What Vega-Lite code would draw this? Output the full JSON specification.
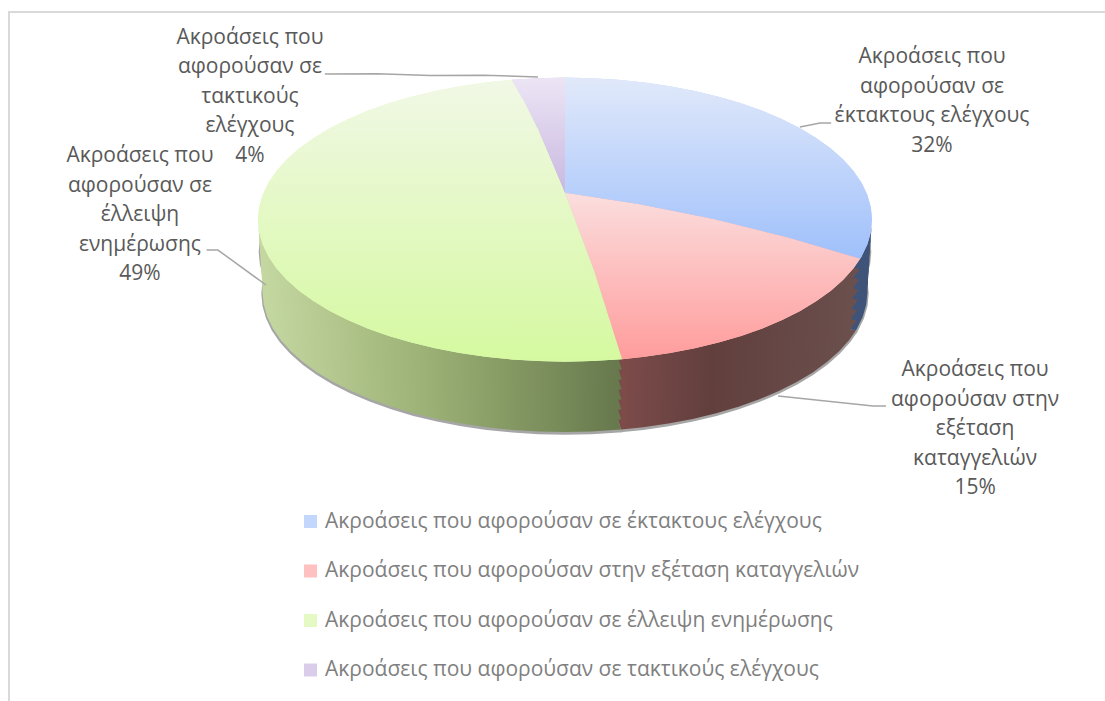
{"$schema":"https://vega.github.io/schema/vega-lite/v6.json","width":1110,"height":700,"autosize":{"type":"none"},"padding":{"left":9,"top":12,"right":0,"bottom":0},"background":"white","view":{"stroke":"#d9d9d9","strokeWidth":2},"config":{"font":"Open Sans"},
"datasets":{"sectors":[
{"type":"Feature","properties":{"name":"Ακροάσεις που αφορούσαν σε έκτακτους ελέγχους","share":32},"geometry":{"type":"Polygon","coordinates":[[[0,90],[180,78.7],[175,78.7],[170,78.7],[165,78.7],[160,78.7],[155,78.7],[150,78.7],[145,78.7],[140,78.7],[135,78.7],[130,78.7],[125,78.7],[120,78.7],[115,78.7],[110,78.7],[105,78.7],[100,78.7],[95,78.7],[90,78.7],[85,78.7],[80,78.7],[75,78.7],[74,78.7],[0,90]]]}},
{"type":"Feature","properties":{"name":"Ακροάσεις που αφορούσαν στην εξέταση καταγγελιών","share":15},"geometry":{"type":"Polygon","coordinates":[[[0,90],[74,78.7],[70,78.7],[65,78.7],[60,78.7],[55,78.7],[50,78.7],[45,78.7],[40,78.7],[35,78.7],[30,78.7],[25,78.7],[20,78.7],[15,78.7],[10.7,78.7],[0,90]]]}},
{"type":"Feature","properties":{"name":"Ακροάσεις που αφορούσαν σε έλλειψη ενημέρωσης","share":49},"geometry":{"type":"Polygon","coordinates":[[[0,90],[10.7,78.7],[5,78.7],[0,78.7],[-5,78.7],[-10,78.7],[-15,78.7],[-20,78.7],[-25,78.7],[-30,78.7],[-35,78.7],[-40,78.7],[-45,78.7],[-50,78.7],[-55,78.7],[-60,78.7],[-65,78.7],[-70,78.7],[-75,78.7],[-80,78.7],[-85,78.7],[-90,78.7],[-95,78.7],[-100,78.7],[-105,78.7],[-110,78.7],[-115,78.7],[-120,78.7],[-125,78.7],[-130,78.7],[-135,78.7],[-140,78.7],[-145,78.7],[-150,78.7],[-155,78.7],[-160,78.7],[-165,78.7],[-170,78.7],[0,90]]]}},
{"type":"Feature","properties":{"name":"Ακροάσεις που αφορούσαν σε τακτικούς ελέγχους","share":4},"geometry":{"type":"Polygon","coordinates":[[[0,90],[-170,78.7],[-175,78.7],[-180,78.7],[0,90]]]}}],
"leaders":[
{"type":"Feature","properties":{"share":32},"geometry":{"type":"LineString","coordinates":[[130.55,78.62],[130.94,77.56],[130.37,77.12]]}},
{"type":"Feature","properties":{"share":15},"geometry":{"type":"LineString","coordinates":[[32.10,75.17],[42.79,73.18],[44.29,72.94]]}},
{"type":"Feature","properties":{"share":49},"geometry":{"type":"LineString","coordinates":[[-83.10,76.68],[-82.14,77.08],[-65.97,77.94]]}},
{"type":"Feature","properties":{"share":4},"geometry":{"type":"LineString","coordinates":[[-148.09,73.15],[-157.97,76.72],[-175.02,78.55]]}}],
"labels":[
{"share":32,"label":"Ακροάσεις που\nαφορούσαν σε\nέκτακτους ελέγχους\n32%","lon":134.94,"lat":70.676},
{"share":15,"label":"Ακροάσεις που\nαφορούσαν στην\nεξέταση\nκαταγγελιών\n15%","lon":50.79,"lat":70.26},
{"share":49,"label":"Ακροάσεις που\nαφορούσαν σε\nέλλειψη\nενημέρωσης\n49%","lon":-98.98,"lat":74.06},
{"share":4,"label":"Ακροάσεις που\nαφορούσαν σε\nτακτικούς\nελέγχους\n4%","lon":-137.38,"lat":72.727}]},
"layer":[
{"data":{"name":"sectors"},"mark":{"type":"geoshape","fill":"#a6a6a6","stroke":"#a6a6a6","strokeWidth":2.5},"projection":{"type":"orthographic","precision":0.75,"rotate":[0,-27.55],"scale":1543.5,"translate":[556,1623.5]}},
{"data":{"name":"sectors"},"mark":{"type":"geoshape","fill":"#a6a6a6","stroke":"#a6a6a6","strokeWidth":2.5},"projection":{"type":"orthographic","rotate":[0,-27.55],"scale":1556.9,"translate":[556,1593.5]}},
{"data":{"name":"sectors"},"transform":[{"filter":"datum.properties.share===32"}],"mark":{"type":"geoshape","fill":"#3f5478"},"projection":{"type":"orthographic","rotate":[0,-27.55],"scale":1543.5,"translate":[556,1622.1]}},
{"data":{"name":"sectors"},"transform":[{"filter":"datum.properties.share===32"}],"mark":{"type":"geoshape","fill":"#3f5478"},"projection":{"type":"orthographic","rotate":[0,-27.55],"scale":1546.9,"translate":[556,1614.7]}},
{"data":{"name":"sectors"},"transform":[{"filter":"datum.properties.share===32"}],"mark":{"type":"geoshape","fill":"#3f5478"},"projection":{"type":"orthographic","rotate":[0,-27.55],"scale":1550.2,"translate":[556,1607.3]}},
{"data":{"name":"sectors"},"transform":[{"filter":"datum.properties.share===32"}],"mark":{"type":"geoshape","fill":"#3f5478"},"projection":{"type":"orthographic","rotate":[0,-27.55],"scale":1553.6,"translate":[556,1599.9]}},
{"data":{"name":"sectors"},"transform":[{"filter":"datum.properties.share===32"}],"mark":{"type":"geoshape","fill":"#3f5478"},"projection":{"type":"orthographic","rotate":[0,-27.55],"scale":1556.9,"translate":[556,1592.5]}},
{"data":{"name":"sectors"},"transform":[{"filter":"datum.properties.share===32"}],"mark":{"type":"geoshape","fill":"#3f5478"},"projection":{"type":"orthographic","rotate":[0,-27.55],"scale":1560.3,"translate":[556,1585.2]}},
{"data":{"name":"sectors"},"transform":[{"filter":"datum.properties.share===32"}],"mark":{"type":"geoshape","fill":"#3f5478"},"projection":{"type":"orthographic","rotate":[0,-27.55],"scale":1563.6,"translate":[556,1577.7]}},
{"data":{"name":"sectors"},"transform":[{"filter":"datum.properties.share===15"}],"mark":{"type":"geoshape","fill":{"gradient":"linear","x1":0,"y1":0,"x2":1,"y2":0,"stops":[{"offset":0,"color":"#60403f"},{"offset":0.2,"color":"#7c4b4a"},{"offset":0.5,"color":"#613f3d"},{"offset":1,"color":"#6b504e"}]}},"projection":{"type":"orthographic","rotate":[0,-27.55],"scale":1543.5,"translate":[556,1622.1]}},
{"data":{"name":"sectors"},"transform":[{"filter":"datum.properties.share===15"}],"mark":{"type":"geoshape","fill":{"gradient":"linear","x1":0,"y1":0,"x2":1,"y2":0,"stops":[{"offset":0,"color":"#60403f"},{"offset":0.2,"color":"#7c4b4a"},{"offset":0.5,"color":"#613f3d"},{"offset":1,"color":"#6b504e"}]}},"projection":{"type":"orthographic","rotate":[0,-27.55],"scale":1546.9,"translate":[556,1614.7]}},
{"data":{"name":"sectors"},"transform":[{"filter":"datum.properties.share===15"}],"mark":{"type":"geoshape","fill":{"gradient":"linear","x1":0,"y1":0,"x2":1,"y2":0,"stops":[{"offset":0,"color":"#60403f"},{"offset":0.2,"color":"#7c4b4a"},{"offset":0.5,"color":"#613f3d"},{"offset":1,"color":"#6b504e"}]}},"projection":{"type":"orthographic","rotate":[0,-27.55],"scale":1550.2,"translate":[556,1607.3]}},
{"data":{"name":"sectors"},"transform":[{"filter":"datum.properties.share===15"}],"mark":{"type":"geoshape","fill":{"gradient":"linear","x1":0,"y1":0,"x2":1,"y2":0,"stops":[{"offset":0,"color":"#60403f"},{"offset":0.2,"color":"#7c4b4a"},{"offset":0.5,"color":"#613f3d"},{"offset":1,"color":"#6b504e"}]}},"projection":{"type":"orthographic","rotate":[0,-27.55],"scale":1553.6,"translate":[556,1599.9]}},
{"data":{"name":"sectors"},"transform":[{"filter":"datum.properties.share===15"}],"mark":{"type":"geoshape","fill":{"gradient":"linear","x1":0,"y1":0,"x2":1,"y2":0,"stops":[{"offset":0,"color":"#60403f"},{"offset":0.2,"color":"#7c4b4a"},{"offset":0.5,"color":"#613f3d"},{"offset":1,"color":"#6b504e"}]}},"projection":{"type":"orthographic","rotate":[0,-27.55],"scale":1556.9,"translate":[556,1592.5]}},
{"data":{"name":"sectors"},"transform":[{"filter":"datum.properties.share===15"}],"mark":{"type":"geoshape","fill":{"gradient":"linear","x1":0,"y1":0,"x2":1,"y2":0,"stops":[{"offset":0,"color":"#60403f"},{"offset":0.2,"color":"#7c4b4a"},{"offset":0.5,"color":"#613f3d"},{"offset":1,"color":"#6b504e"}]}},"projection":{"type":"orthographic","rotate":[0,-27.55],"scale":1560.3,"translate":[556,1585.2]}},
{"data":{"name":"sectors"},"transform":[{"filter":"datum.properties.share===15"}],"mark":{"type":"geoshape","fill":{"gradient":"linear","x1":0,"y1":0,"x2":1,"y2":0,"stops":[{"offset":0,"color":"#60403f"},{"offset":0.2,"color":"#7c4b4a"},{"offset":0.5,"color":"#613f3d"},{"offset":1,"color":"#6b504e"}]}},"projection":{"type":"orthographic","rotate":[0,-27.55],"scale":1563.6,"translate":[556,1577.7]}},
{"data":{"name":"sectors"},"transform":[{"filter":"datum.properties.share===49"}],"mark":{"type":"geoshape","fill":{"gradient":"linear","x1":0,"y1":0,"x2":1,"y2":0,"stops":[{"offset":0,"color":"#c5d8a2"},{"offset":0.45,"color":"#9db276"},{"offset":1,"color":"#66784c"}]}},"projection":{"type":"orthographic","rotate":[0,-27.55],"scale":1543.5,"translate":[556,1622.1]}},
{"data":{"name":"sectors"},"transform":[{"filter":"datum.properties.share===49"}],"mark":{"type":"geoshape","fill":{"gradient":"linear","x1":0,"y1":0,"x2":1,"y2":0,"stops":[{"offset":0,"color":"#c5d8a2"},{"offset":0.45,"color":"#9db276"},{"offset":1,"color":"#66784c"}]}},"projection":{"type":"orthographic","rotate":[0,-27.55],"scale":1546.9,"translate":[556,1614.7]}},
{"data":{"name":"sectors"},"transform":[{"filter":"datum.properties.share===49"}],"mark":{"type":"geoshape","fill":{"gradient":"linear","x1":0,"y1":0,"x2":1,"y2":0,"stops":[{"offset":0,"color":"#c5d8a2"},{"offset":0.45,"color":"#9db276"},{"offset":1,"color":"#66784c"}]}},"projection":{"type":"orthographic","rotate":[0,-27.55],"scale":1550.2,"translate":[556,1607.3]}},
{"data":{"name":"sectors"},"transform":[{"filter":"datum.properties.share===49"}],"mark":{"type":"geoshape","fill":{"gradient":"linear","x1":0,"y1":0,"x2":1,"y2":0,"stops":[{"offset":0,"color":"#c5d8a2"},{"offset":0.45,"color":"#9db276"},{"offset":1,"color":"#66784c"}]}},"projection":{"type":"orthographic","rotate":[0,-27.55],"scale":1553.6,"translate":[556,1599.9]}},
{"data":{"name":"sectors"},"transform":[{"filter":"datum.properties.share===49"}],"mark":{"type":"geoshape","fill":{"gradient":"linear","x1":0,"y1":0,"x2":1,"y2":0,"stops":[{"offset":0,"color":"#c5d8a2"},{"offset":0.45,"color":"#9db276"},{"offset":1,"color":"#66784c"}]}},"projection":{"type":"orthographic","rotate":[0,-27.55],"scale":1556.9,"translate":[556,1592.5]}},
{"data":{"name":"sectors"},"transform":[{"filter":"datum.properties.share===49"}],"mark":{"type":"geoshape","fill":{"gradient":"linear","x1":0,"y1":0,"x2":1,"y2":0,"stops":[{"offset":0,"color":"#c5d8a2"},{"offset":0.45,"color":"#9db276"},{"offset":1,"color":"#66784c"}]}},"projection":{"type":"orthographic","rotate":[0,-27.55],"scale":1560.3,"translate":[556,1585.2]}},
{"data":{"name":"sectors"},"transform":[{"filter":"datum.properties.share===49"}],"mark":{"type":"geoshape","fill":{"gradient":"linear","x1":0,"y1":0,"x2":1,"y2":0,"stops":[{"offset":0,"color":"#c5d8a2"},{"offset":0.45,"color":"#9db276"},{"offset":1,"color":"#66784c"}]}},"projection":{"type":"orthographic","rotate":[0,-27.55],"scale":1563.6,"translate":[556,1577.7]}},
{"data":{"name":"sectors"},"mark":{"type":"geoshape"},"projection":{"type":"orthographic","rotate":[0,-27.55],"scale":1567,"translate":[556,1570]},"encoding":{"color":{"field":"properties.name","type":"nominal","scale":{"domain":["Ακροάσεις που αφορούσαν σε έκτακτους ελέγχους","Ακροάσεις που αφορούσαν στην εξέταση καταγγελιών","Ακροάσεις που αφορούσαν σε έλλειψη ενημέρωσης","Ακροάσεις που αφορούσαν σε τακτικούς ελέγχους"],"range":["#c3d6fb","#ffc0c0","#e4f9c4","#d9cdea"]},"legend":{"title":null,"orient":"none","legendX":291,"legendY":499,"symbolType":"square","symbolSize":169,"symbolStrokeWidth":0,"labelFont":"Open Sans","labelFontSize":21,"labelColor":"#7f7f7f","labelLimit":700,"rowPadding":27.5,"labelOffset":4}}}},
{"data":{"name":"sectors"},"transform":[{"filter":"datum.properties.share===32"}],"mark":{"type":"geoshape","fill":{"gradient":"linear","x1":0,"y1":0,"x2":0,"y2":1,"stops":[{"offset":0,"color":"#e1e9fa"},{"offset":1,"color":"#9fc0fb"}]}},"projection":{"type":"orthographic","rotate":[0,-27.55],"scale":1567,"translate":[556,1570]}},
{"data":{"name":"sectors"},"transform":[{"filter":"datum.properties.share===15"}],"mark":{"type":"geoshape","fill":{"gradient":"linear","x1":0,"y1":0,"x2":0,"y2":1,"stops":[{"offset":0,"color":"#fbdede"},{"offset":1,"color":"#ff9c9c"}]}},"projection":{"type":"orthographic","rotate":[0,-27.55],"scale":1567,"translate":[556,1570]}},
{"data":{"name":"sectors"},"transform":[{"filter":"datum.properties.share===49"}],"mark":{"type":"geoshape","fill":{"gradient":"linear","x1":0,"y1":0,"x2":0,"y2":1,"stops":[{"offset":0,"color":"#f1f8e6"},{"offset":1,"color":"#d5f9a0"}]}},"projection":{"type":"orthographic","rotate":[0,-27.55],"scale":1567,"translate":[556,1570]}},
{"data":{"name":"sectors"},"transform":[{"filter":"datum.properties.share===4"}],"mark":{"type":"geoshape","fill":{"gradient":"linear","x1":0,"y1":0,"x2":0,"y2":1,"stops":[{"offset":0,"color":"#ece5f5"},{"offset":1,"color":"#c9b8e0"}]}},"projection":{"type":"orthographic","rotate":[0,-27.55],"scale":1567,"translate":[556,1570]}},
{"data":{"name":"leaders"},"mark":{"type":"geoshape","filled":false,"stroke":"#a6a6a6","strokeWidth":1.5},"projection":{"type":"orthographic","rotate":[0,-27.55],"scale":1567,"translate":[556,1570]}},
{"data":{"name":"labels"},"transform":[{"filter":"datum.share===32"}],"mark":{"type":"text","lineBreak":"\n","lineHeight":29.5,"align":"center","baseline":"middle","dy":-44.25,"font":"Open Sans","fontSize":21,"fill":"#595959"},"projection":{"type":"orthographic","rotate":[0,-27.55],"scale":1567,"translate":[556,1570]},"encoding":{"longitude":{"field":"lon","type":"quantitative"},"latitude":{"field":"lat","type":"quantitative"},"text":{"field":"label","type":"nominal"}}},
{"data":{"name":"labels"},"transform":[{"filter":"datum.share!==32"}],"mark":{"type":"text","lineBreak":"\n","lineHeight":29.5,"align":"center","baseline":"middle","dy":-59,"font":"Open Sans","fontSize":21,"fill":"#595959"},"projection":{"type":"orthographic","rotate":[0,-27.55],"scale":1567,"translate":[556,1570]},"encoding":{"longitude":{"field":"lon","type":"quantitative"},"latitude":{"field":"lat","type":"quantitative"},"text":{"field":"label","type":"nominal"}}}
]}
